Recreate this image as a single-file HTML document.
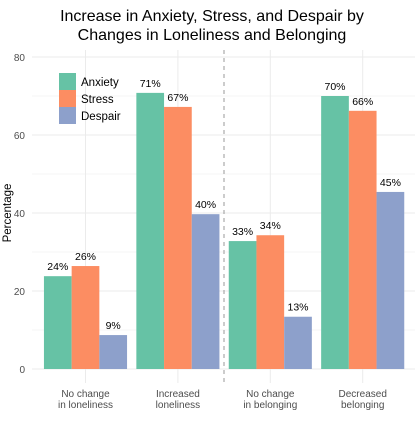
<!DOCTYPE html>
<html><head><meta charset="utf-8"><style>
body{margin:0;background:#fff;font-family:"Liberation Sans",sans-serif}
svg text{font-family:"Liberation Sans",sans-serif}
</style></head><body>
<svg width="415" height="426">
<g id="g"></g>
</svg>
<script>
const categories=["No change|in loneliness","Increased|loneliness","No change|in belonging","Decreased|belonging"];
const seriesNames=["Anxiety","Stress","Despair"];
const anxiety=[23.8,70.8,32.8,70.0];
const stress=[26.4,67.2,34.3,66.2];
const despair=[8.7,39.7,13.4,45.4];
const yTicks=[0,20,40,60,80];
const colors=["#66c2a5","#fc8d62","#8da0cb"];
const series=[anxiety,stress,despair];
const NS="http://www.w3.org/2000/svg";
const g=document.getElementById('g');
function y(v){return 369-v*3.9;}
function xc(i){return 85.5+92.4*i;}
const bw=27.7;
function mk(t,a,p){const e=document.createElementNS(NS,t);for(const k in a)e.setAttribute(k,a[k]);(p||g).appendChild(e);return e;}
let t=mk('text',{x:212,y:21,'text-anchor':'middle','font-size':16,fill:'#000'});t.textContent="Increase in Anxiety, Stress, and Despair by";


t=mk('text',{x:212,y:40,'text-anchor':'middle','font-size':16,fill:'#000'});t.textContent="Changes in Loneliness and Belonging";


for(let v=0;v<=80;v+=10){const l=mk('line',{x1:32,x2:415,y1:y(v),y2:y(v),stroke:'#ebebeb','stroke-width':v%20?0.5:1});

}
categories.forEach((c,i)=>{const l=mk('line',{x1:xc(i),x2:xc(i),y1:50,y2:383,stroke:'#ebebeb','stroke-width':1});

});
yTicks.forEach(v=>{const e=mk('text',{x:25,y:y(v)+4,'text-anchor':'end','font-size':10,fill:'#4d4d4d'});e.textContent=v;

});
t=mk('text',{x:0,y:0,transform:'translate(11,213) rotate(-90)','text-anchor':'middle','font-size':11.5,fill:'#000'});t.textContent="Percentage";


series.forEach((s,si)=>{s.forEach((v,i)=>{
 const x=xc(i)-1.5*bw+si*bw;
 const r=mk('rect',{x:x,y:y(v),width:bw,height:y(0)-y(v),fill:colors[si]});
 
 
 const lb=mk('text',{x:x+bw/2,y:y(v)-6,'text-anchor':'middle','font-size':10.5,fill:'#000'});lb.textContent=Math.round(v)+'%';
 
 
});});
categories.forEach((c,i)=>{c.split('|').forEach((s,k)=>{const e=mk('text',{x:xc(i),y:397+k*11,'text-anchor':'middle','font-size':10,fill:'#4d4d4d'});e.textContent=s;

});});
const d=mk('line',{x1:224,x2:224,y1:50,y2:385,stroke:'#999','stroke-width':1,'stroke-dasharray':'4,4'});


seriesNames.forEach((n,i)=>{const r=mk('rect',{x:59,y:73+i*17,width:17,height:17,fill:colors[i]});


const e=mk('text',{x:81,y:86+i*17,'font-size':11.5,fill:'#000'});e.textContent=n;

});
</script>
</body></html>
